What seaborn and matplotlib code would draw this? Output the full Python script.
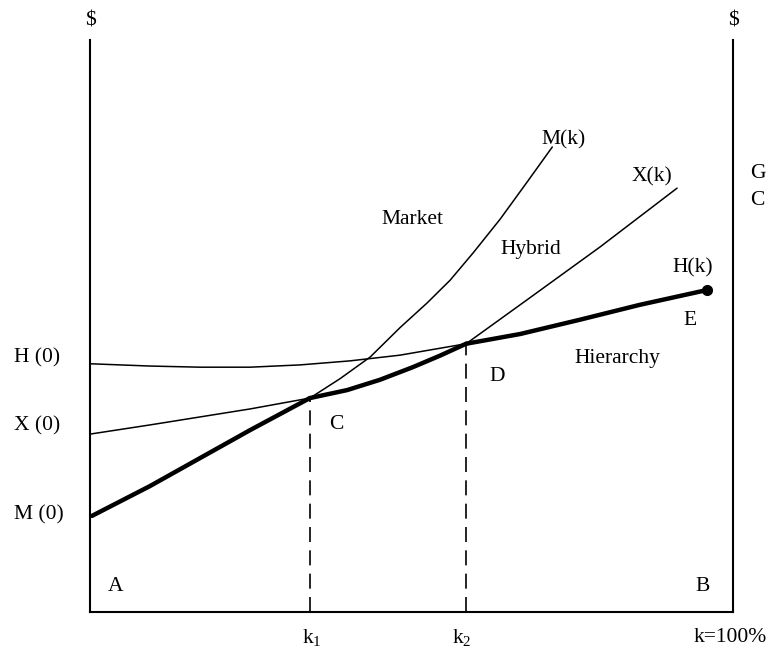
import matplotlib
matplotlib.use("Agg")
import matplotlib.pyplot as plt
import seaborn as sns

# curves: k in % of the x axis, cost in % of the y axis
m_k = [0.3, 9.3, 17.1, 24.9, 34.2, 38.9, 43.6, 48.2, 52.4, 56.0, 59.6, 63.8, 68.0, 71.9]
m_cost = [16.8, 22.0, 26.9, 31.8, 37.4, 40.8, 44.6, 49.7, 54.0, 58.0, 62.8, 68.7, 75.2, 81.3]

x_k = [0.0, 9.3, 17.1, 24.9, 34.2, 40.0, 45.1, 50.2, 54.4, 58.5, 68.0, 79.3, 91.3]
x_cost = [31.1, 32.7, 34.1, 35.5, 37.4, 38.8, 40.6, 42.8, 44.8, 46.9, 54.6, 63.8, 74.1]

h_k = [0.0, 9.3, 17.1, 24.9, 32.7, 40.4, 48.2, 58.5, 66.9, 76.2, 85.5, 96.0]
h_cost = [43.4, 43.0, 42.8, 42.8, 43.2, 43.9, 44.9, 46.9, 48.6, 51.1, 53.7, 56.3]

k1 = 34.2
k2 = 58.5
c_at_k1 = 37.4
c_at_k2 = 46.9

sns.set_theme(style="white")
plt.rcParams["font.family"] = ["Liberation Serif", "DejaVu Serif"]

fig = plt.figure(figsize=(7.67, 6.58), dpi=100)
ax = fig.add_axes([90 / 767, 46 / 658, 643 / 767, 572 / 658])
ax.set_xlim(0, 100)
ax.set_ylim(0, 100)
ax.set_xticks([])
ax.set_yticks([])
ax.spines["top"].set_visible(False)
for s in ["left", "right", "bottom"]:
    ax.spines[s].set_color("black")
    ax.spines[s].set_linewidth(1.5)

thin = 1.1
thick = 3.2

# M(k): thick up to k1, thin afterwards
sns.lineplot(x=m_k[:5], y=m_cost[:5], ax=ax, color="black", linewidth=thick, sort=False)
sns.lineplot(x=m_k[4:], y=m_cost[4:], ax=ax, color="black", linewidth=thin, sort=False)

# X(k): thick between k1 and k2
sns.lineplot(x=x_k[:5], y=x_cost[:5], ax=ax, color="black", linewidth=thin, sort=False)
sns.lineplot(x=x_k[4:10], y=x_cost[4:10], ax=ax, color="black", linewidth=thick, sort=False)
sns.lineplot(x=x_k[9:], y=x_cost[9:], ax=ax, color="black", linewidth=thin, sort=False)

# H(k): thick after k2
sns.lineplot(x=h_k[:8], y=h_cost[:8], ax=ax, color="black", linewidth=thin, sort=False)
sns.lineplot(x=h_k[7:], y=h_cost[7:], ax=ax, color="black", linewidth=thick, sort=False)
ax.plot(h_k[-1:], h_cost[-1:], "o", color="black", markersize=7)

# dashed drops to the axis
ax.plot([k1, k1], [0, c_at_k1], color="black", linewidth=1.2, dashes=(9, 5))
ax.plot([k2, k2], [0, c_at_k2], color="black", linewidth=1.2, dashes=(9, 5))

fs = 15.5
def label(x, y, s, ha="center", size=fs):
    ax.text(x, y, s, ha=ha, va="center", fontsize=size, color="black", clip_on=False)

label(0, 103.3, "$")
label(100, 103.3, "$")
label(-11.8, 44.4, "H (0)", ha="left")
label(-11.8, 32.5, "X (0)", ha="left")
label(-11.8, 17.0, "M (0)", ha="left")
label(3.9, 4.5, "A")
label(95.3, 4.4, "B")
label(34.5, -4.5, r"k$_{\mathregular{1}}$")
label(57.8, -4.5, r"k$_{\mathregular{2}}$")
label(93.8, -4.5, "k=100%", ha="left")
label(38.3, 32.7, "C")
label(63.3, 41.1, "D")
label(93.3, 50.9, "E")
label(50.2, 68.7, "Market")
label(68.6, 63.3, "Hybrid")
label(82.0, 44.4, "Hierarchy")
label(73.6, 82.5, "M(k)")
label(87.4, 76.0, "X(k)")
label(93.8, 60.1, "H(k)")
label(102.6, 76.7, "G", ha="left")
label(102.6, 72.0, "C", ha="left")

fig.savefig("out.png", dpi=100, facecolor="white")
